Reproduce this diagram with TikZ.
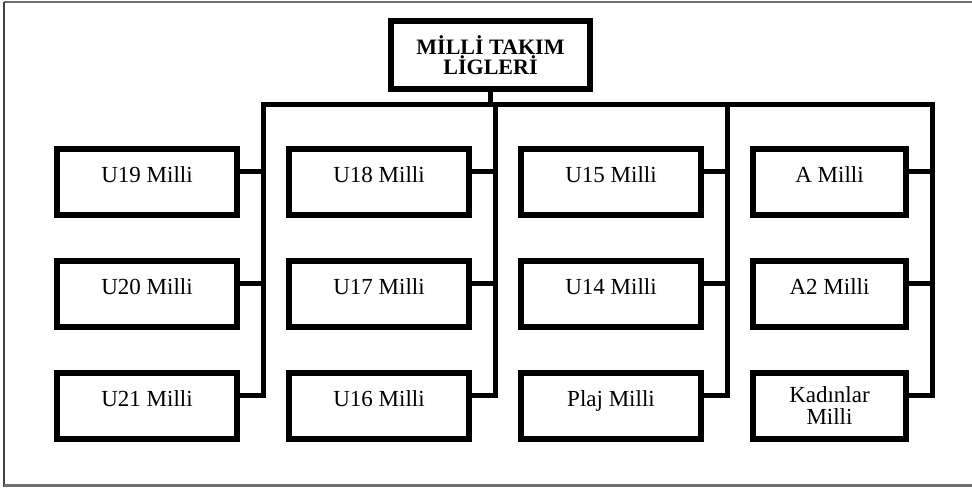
\documentclass[tikz,border=0pt]{standalone}
\usepackage{fontspec}
\setmainfont{Liberation Serif}
\usetikzlibrary{positioning}
\definecolor{frameline}{RGB}{110,110,110}

\begin{document}
\begin{tikzpicture}[
  every node/.style={font=\fontsize{11.5}{11}\selectfont},
  unit/.style={draw,line width=3pt,minimum width=90pt,minimum height=33pt,inner sep=0pt,align=center,text height=16.5pt,text depth=16.5pt},
  topunit/.style={draw,line width=3pt,minimum width=99.5pt,minimum height=34pt,inner sep=0pt,align=center,font=\fontsize{11}{10}\selectfont\bfseries},
  link/.style={line width=2.5pt,line cap=rect}]
\useasboundingbox (0,0) rectangle (486pt,-243.5pt);

% frame (no right side)
\draw[frameline,line width=1pt] (486pt,-0.75pt) -- (2pt,-0.75pt);
\draw[black!75,line width=0.8pt] (2pt,-0.75pt) -- (2pt,-243.5pt);
\draw[frameline,line width=1.5pt] (2pt,-242.6pt) -- (486pt,-242.6pt);

\node[topunit] (title) at (245.25pt,-27.5pt) {MİLLİ TAKIM\\LİGLERİ};
\coordinate[below=6pt of title] (hub);

% column 1
\node[unit] (u19) at (73.5pt,-91pt) {U19 Milli};
\node[unit,below=20pt of u19] (u20) {U20 Milli};
\node[unit,below=20pt of u20] (u21) {U21 Milli};
% column 2
\node[unit,right=23pt of u19] (u18) {U18 Milli};
\node[unit,below=20pt of u18] (u17) {U17 Milli};
\node[unit,below=20pt of u17] (u16) {U16 Milli};
% column 3
\node[unit,right=23pt of u18] (u15) {U15 Milli};
\node[unit,below=20pt of u15] (u14) {U14 Milli};
\node[unit,below=20pt of u14] (plaj) {Plaj Milli};
% column 4
\node[unit,minimum width=76.5pt,right=23pt of u15] (amilli) {A Milli};
\node[unit,minimum width=76.5pt,below=20pt of amilli] (atwo) {A2 Milli};
\node[unit,minimum width=76.5pt,below=20pt of atwo,text height={},text depth={}] (kadin) {Kadınlar\\Milli};

\draw[link] (title) -- (hub);
\foreach \a/\b/\c in {u19/u20/u21,u18/u17/u16,u15/u14/plaj,amilli/atwo/kadin}{
  \coordinate (\a-bus) at ([xshift=11.5pt]\a.east);
  \draw[link] ([yshift=5.5pt]\a.east) -- ++(11.5pt,0);
  \draw[link] ([yshift=5.5pt]\b.east) -- ++(11.5pt,0);
  \draw[link,line cap=butt] (hub -| \a-bus) |- ([yshift=5.5pt]\c.east);
}
\draw[link] (hub -| u19-bus) -- (hub -| amilli-bus);
\end{tikzpicture}
\end{document}
